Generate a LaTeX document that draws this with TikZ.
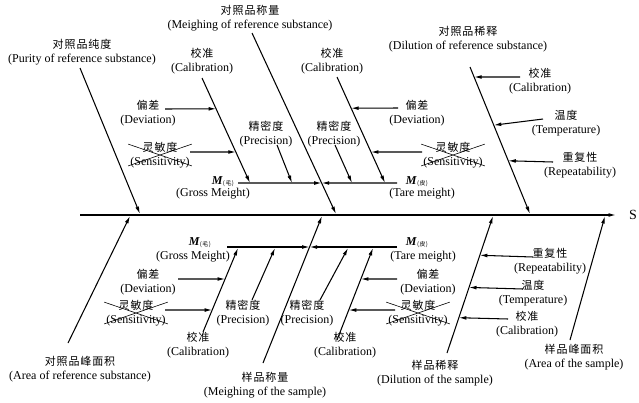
\documentclass[tikz,border=0pt]{standalone}
\usepackage{fontspec}
\setmainfont{Liberation Serif}
\newfontfamily\cjk[LetterSpace=8]{Noto Sans CJK SC}
\usetikzlibrary{arrows.meta}
\newcommand\zh[1]{{\cjk\fontsize{11}{13.5}\selectfont #1}}
\newcommand\msub[1]{\textbf{\textit{M}}\raisebox{-1pt}{\cjk\fontsize{6}{6}\selectfont(#1)}}
\begin{document}
\begin{tikzpicture}[x=1pt,y=-1pt,
  lab/.style={align=center,inner sep=0pt,font=\fontsize{12}{13.5}\selectfont},
  mlab/.style={inner sep=0pt,font=\fontsize{12}{13.5}\selectfont},
  arr/.style={line width=1.05pt,-{Latex[length=7.5pt,width=3.8pt]}},
  xout/.style={line width=0.6pt}]
\useasboundingbox (0,0) rectangle (639,402);

% ---------- coordinates ----------
\coordinate (s0) at (80,215);   \coordinate (s1) at (616,215);
% upper main branches
\coordinate (pa) at (80,68);    \coordinate (pb) at (140,214);
\coordinate (ma) at (252,33);   \coordinate (mb) at (336,214);
\coordinate (da) at (470,67);   \coordinate (db) at (530,214);
% lower main branches
\coordinate (aa) at (68,343);   \coordinate (ab) at (130,216);
\coordinate (wa) at (263,363);  \coordinate (wb) at (322,216);
\coordinate (ea) at (447,353);  \coordinate (eb) at (493,216);
\coordinate (fa) at (570,340);  \coordinate (fb) at (605,216);
% upper sub-branches
\coordinate (g1) at (238,183);  \coordinate (t1) at (397,183);
\coordinate (c1a) at (202,78);  \coordinate (c1b) at (250,183);
\coordinate (p1a) at (277,145); \coordinate (p1b) at (292,183);
\coordinate (d1) at (165,109);  \coordinate (n1) at (190,152);
\coordinate (c2a) at (337,77);  \coordinate (c2b) at (385,183);
\coordinate (p2a) at (335,145); \coordinate (p2b) at (352,183);
\coordinate (d2) at (398,108);  \coordinate (n2) at (422,152);
\coordinate (k1) at (520,77);   \coordinate (h1) at (543,119);  \coordinate (r1) at (553,162);
% lower sub-branches
\coordinate (g2) at (227,247);  \coordinate (t2) at (397,247);
\coordinate (c3a) at (203,332); \coordinate (c3b) at (238,248);
\coordinate (p3a) at (252,300); \coordinate (p3b) at (275,248);
\coordinate (d3) at (178,279);  \coordinate (n3) at (165,310);
\coordinate (c4a) at (337,340); \coordinate (c4b) at (373,248);
\coordinate (p4a) at (320,300); \coordinate (p4b) at (348,248);
\coordinate (d4) at (397,279);  \coordinate (n4) at (395,310);
\coordinate (r2) at (533,257);  \coordinate (h2) at (523,289);  \coordinate (k2) at (508,319);

% ---------- spine ----------
\draw[arr,line width=1.15pt] (s0) -- (s1);
\node[inner sep=0pt,font=\fontsize{14}{14}\selectfont] (S) at (633,215) {S};

% ---------- main branches ----------
\draw[arr] (pa) -- (pb);
\draw[arr] (ma) -- (mb);
\draw[arr] (da) -- (db);
\draw[arr] (aa) -- (ab);
\draw[arr] (wa) -- (wb);
\draw[arr] (ea) -- (eb);
\draw[arr] (fa) -- (fb);

% ---------- upper sub-branches ----------
\draw[arr] (g1) -- (intersection of ma--mb and g1--t1);
\draw[arr] (t1) -- (intersection of ma--mb and g1--t1);
\draw[arr] (c1a) -- (c1b);
\draw[arr] (p1a) -- (p1b);
\draw[arr] (d1) -- (intersection of c1a--c1b and d1--d2);
\draw[arr] (n1) -- (intersection of c1a--c1b and n1--n2);
\draw[arr] (c2a) -- (c2b);
\draw[arr] (p2a) -- (p2b);
\draw[arr] (d2) -- (intersection of c2a--c2b and d1--d2);
\draw[arr] (n2) -- (intersection of c2a--c2b and n1--n2);
\draw[arr] (k1) -- (intersection of da--db and k1--c2a);
\draw[arr] (h1) -- (intersection of da--db and h1--p2a);
\draw[arr] (r1) -- (intersection of da--db and r1--n1);

% ---------- lower sub-branches ----------
\draw[arr] (g2) -- (intersection of wa--wb and g2--t2);
\draw[arr] (t2) -- (intersection of wa--wb and g2--t2);
\draw[arr] (c3a) -- (c3b);
\draw[arr] (p3a) -- (p3b);
\draw[arr] (d3) -- (intersection of c3a--c3b and d3--d4);
\draw[arr] (n3) -- (intersection of c3a--c3b and n3--n4);
\draw[arr] (c4a) -- (c4b);
\draw[arr] (p4a) -- (p4b);
\draw[arr] (d4) -- (intersection of c4a--c4b and d3--d4);
\draw[arr] (n4) -- (intersection of c4a--c4b and n3--n4);
\draw[arr] (r2) -- (intersection of ea--eb and r2--g2);
\draw[arr] (h2) -- (intersection of ea--eb and h2--d3);
\draw[arr] (k2) -- (intersection of ea--eb and k2--n3);

% ---------- labels: upper ----------
\node[lab] (lpur) at (82,52)  {\zh{对照品纯度}\\(Purity of reference substance)};
\node[lab] (lmr)  at (250,18) {\zh{对照品称量}\\(Meighing of reference substance)};
\node[lab] (ldr)  at (468,39) {\zh{对照品稀释}\\(Dilution of reference substance)};
\node[mlab] (mg1) at (223,182) {\msub{毛}};
\node[lab] (lg1)  at (213,194) {(Gross Meight)};
\node[mlab] (mt1) at (417,182) {\msub{皮}};
\node[lab] (lt1)  at (422,194) {(Tare meight)};
\node[lab] (lc1)  at (202,61)  {\zh{校准}\\(Calibration)};
\node[lab] (ld1)  at (148,113) {\zh{偏差}\\(Deviation)};
\node[lab] (ln1)  at (160,155) {\zh{灵敏度}\\(Sensitivity)};
\node[lab] (lp1)  at (266,134) {\zh{精密度}\\(Precision)};
\node[lab] (lc2)  at (332,61)  {\zh{校准}\\(Calibration)};
\node[lab] (ld2)  at (417,113) {\zh{偏差}\\(Deviation)};
\node[lab] (ln2)  at (453,155) {\zh{灵敏度}\\(Sensitivity)};
\node[lab] (lp2)  at (334,134) {\zh{精密度}\\(Precision)};
\node[lab] (lk1)  at (540,81)  {\zh{校准}\\(Calibration)};
\node[lab] (lh1)  at (566,123) {\zh{温度}\\(Temperature)};
\node[lab] (lr1)  at (580,165) {\zh{重复性}\\(Repeatability)};

% ---------- labels: lower ----------
\node[lab] (lar)  at (80,369)  {\zh{对照品峰面积}\\(Area of reference substance)};
\node[lab] (lws)  at (265,385) {\zh{样品称量}\\(Meighing of the sample)};
\node[lab] (les)  at (435,373) {\zh{样品稀释}\\(Dilution of the sample)};
\node[lab] (las)  at (574,357) {\zh{样品峰面积}\\(Area of the sample)};
\node[mlab] (mg2) at (200,243) {\msub{毛}};
\node[lab] (lg2)  at (193,257) {(Gross Meight)};
\node[mlab] (mt2) at (417,243) {\msub{皮}};
\node[lab] (lt2)  at (423,257) {(Tare meight)};
\node[lab] (lc3)  at (198,345) {\zh{校准}\\(Calibration)};
\node[lab] (ld3)  at (148,282) {\zh{偏差}\\(Deviation)};
\node[lab] (ln3)  at (136,313) {\zh{灵敏度}\\(Sensitivity)};
\node[lab] (lp3)  at (243,313) {\zh{精密度}\\(Precision)};
\node[lab] (lp4)  at (307,313) {\zh{精密度}\\(Precision)};
\node[lab] (lc4)  at (345,345) {\zh{校准}\\(Calibration)};
\node[lab] (ld4)  at (428,282) {\zh{偏差}\\(Deviation)};
\node[lab] (ln4)  at (418,313) {\zh{灵敏度}\\(Sensitivity)};
\node[lab] (lr2)  at (550,261) {\zh{重复性}\\(Repeatability)};
\node[lab] (lh2)  at (533,293) {\zh{温度}\\(Temperature)};
\node[lab] (lk2)  at (527,324) {\zh{校准}\\(Calibration)};

% ---------- cross-outs on Sensitivity ----------
\foreach \n in {ln1,ln2,ln3,ln4}{
  \draw[xout] ([shift={(-2,2)}]\n.north west) -- ([shift={(2,-2)}]\n.south east);
  \draw[xout] ([shift={(-2,-2)}]\n.south west) -- ([shift={(2,2)}]\n.north east);
}
\end{tikzpicture}
\end{document}
